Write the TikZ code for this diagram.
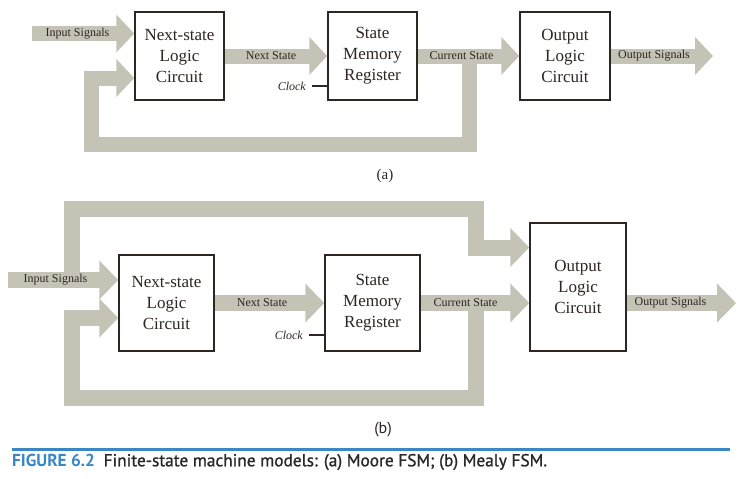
\documentclass[tikz,border=0pt]{standalone}
\usepackage{fontspec}
\setmainfont{Liberation Serif}
\newfontfamily\capfont{PT Sans}
\newfontfamily\capmedfont[FakeBold=1.2]{PT Sans}
\usetikzlibrary{arrows.meta,backgrounds}
\definecolor{sig}{RGB}{197,195,182}
\definecolor{boxc}{RGB}{45,38,34}
\definecolor{capblue}{RGB}{58,135,196}
\definecolor{captext}{RGB}{40,40,40}
\begin{document}
\begin{tikzpicture}[x=1pt,y=-1pt,
  blk/.style={draw=boxc, line width=1.5pt, fill=white, align=center, text=boxc,
    font=\fontsize{17}{21}\selectfont, inner sep=0pt, minimum width=89pt, minimum height=88pt},
  busa/.style={draw=sig, line width=15pt, -{Triangle[width=37pt,length=18pt]}},
  busb/.style={draw=sig, line width=16pt, -{Triangle[width=38pt,length=19pt]}},
  lbl/.style={font=\fontsize{12}{14}\selectfont, text=boxc, inner sep=0pt},
  clk/.style={font=\fontsize{12}{14}\selectfont\itshape, text=boxc, inner sep=0pt, anchor=east},
  clkline/.style={draw=boxc, line width=1.8pt, shorten <=6pt}
]
\useasboundingbox (0,0) rectangle (753,479);
% ---------- (a) Moore ----------
\node[blk] (nsA) at (179.5,56) {Next-state\\Logic\\Circuit};
\node[blk] (smA) at (372.5,56) {State\\Memory\\Register};
\node[blk, minimum width=90pt] (olA) at (565,56) {Output\\Logic\\Circuit};
\coordinate (inA) at (32,33.5);
\coordinate (outA) at (713,56);
\coordinate (fbA1) at (469.5,56);
\coordinate (fbA2) at (469.5,144.5);
\coordinate (fbA3) at (91,144.5);
\coordinate (fbA4) at (91,78);
\begin{scope}[on background layer]
\draw[busa] (inA) -- (inA -| nsA.west);
\draw[busa] (nsA.east) -- (smA.west);
\draw[busa] (smA.east) -- (olA.west);
\draw[busa] (olA.east) -- (outA);
\draw[busa] (fbA1) -- (fbA2) -- (fbA3) -- (fbA4) -- (fbA4 -| nsA.west);
\end{scope}
\node[lbl] at (77.5,33.5) {Input Signals};
\node[lbl] at (271,55.5) {Next State};
\node[lbl] at (461.5,55.5) {Current State};
\node[lbl] at (654,55.5) {Output Signals};
\node[clk] (clkA) at (306,86) {Clock};
\draw[clkline] (clkA.east) -- (clkA.east -| smA.west);
\node[font=\fontsize{15}{17}\selectfont, text=boxc] (capA) at (385,176) {(a)};
% ---------- (b) Mealy ----------
\node[blk, minimum width=95pt, minimum height=96pt] (nsB) at (166.5,303) {Next-state\\Logic\\Circuit};
\node[blk, minimum width=95pt, minimum height=96pt] (smB) at (372.5,303) {State\\Memory\\Register};
\node[blk, minimum width=96pt, minimum height=128pt] (olB) at (578,287) {Output\\Logic\\Circuit};
\coordinate (inB) at (8,280);
\coordinate (outB) at (736,303);
\coordinate (tpB1) at (71.5,280);
\coordinate (tpB2) at (71.5,208.5);
\coordinate (tpB3) at (475.5,208.5);
\coordinate (tpB4) at (475.5,247.5);
\coordinate (fbB1) at (475.5,303);
\coordinate (fbB2) at (475.5,398);
\coordinate (fbB3) at (71.5,398);
\coordinate (fbB4) at (71.5,318);
\begin{scope}[on background layer]
\draw[busb] (inB) -- (inB -| nsB.west);
\draw[busb] (tpB1) -- (tpB2) -- (tpB3) -- (tpB4) -- (tpB4 -| olB.west);
\draw[busb] (nsB.east) -- (smB.west);
\draw[busb] (smB.east) -- (smB.east -| olB.west);
\draw[busb] (olB.east |- outB) -- (outB);
\draw[busb] (fbB1) -- (fbB2) -- (fbB3) -- (fbB4) -- (fbB4 -| nsB.west);
\end{scope}
\node[lbl] at (55.5,280) {Input Signals};
\node[lbl] at (262,303) {Next State};
\node[lbl] at (465.5,303) {Current State};
\node[lbl] at (670.5,303) {Output Signals};
\node[clk] (clkB) at (303,335) {Clock};
\draw[clkline] (clkB.east) -- (clkB.east -| smB.west);
\node[font=\capfont\fontsize{16}{18}\selectfont, text=boxc] (capB) at (383,430) {(b)};
% ---------- caption ----------
\draw[capblue, line width=3pt] (12,449) -- (730,449);
\node[anchor=west, inner sep=0pt, font=\fontsize{17.3}{20}\selectfont] (fig) at (12,462)
  {\textcolor{capblue}{\capfont\bfseries FIGURE 6.2}\enspace\textcolor{captext}{\capmedfont Finite-state machine models: (a) Moore FSM; (b) Mealy FSM.}};
\end{tikzpicture}
\end{document}
